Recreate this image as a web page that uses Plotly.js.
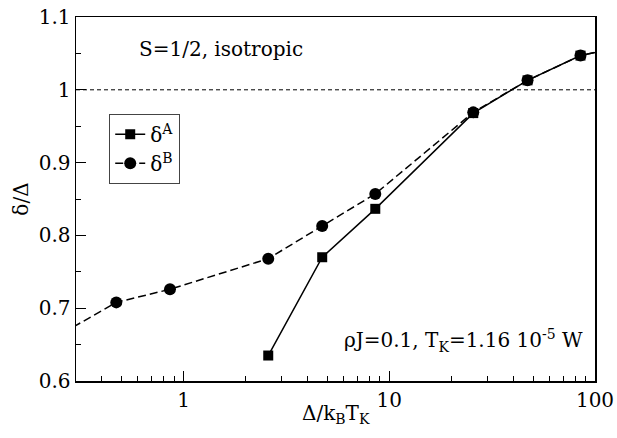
<!DOCTYPE html>
<html>
<head>
<meta charset="utf-8">
<script src="https://cdn.plot.ly/plotly-3.0.1.min.js"></script>
<style>
  body { margin: 0; background: #fff; }
  #graph { width: 617px; height: 438px; }
</style>
</head>
<body>
<div id="graph"></div>
<script>
// data (x = Delta/kB TK, y = delta/Delta)
var xA = [2.58, 4.72, 8.55, 25.6, 47, 85, 256];
var yA = [0.635, 0.770, 0.8365, 0.968, 1.013, 1.047, 1.076];
var xB = [0.259, 0.471, 0.859, 2.58, 4.72, 8.55, 25.6, 47, 85, 256];
var yB = [0.666, 0.708, 0.726, 0.768, 0.813, 0.857, 0.969, 1.013, 1.047, 1.076];

var serif = 'DejaVu Serif';

var traceA = {
    type: 'scatter',
    mode: 'lines+markers',
    name: 'δ<sup>A</sup>',
    x: xA,
    y: yA,
    line: {color: 'black', width: 1.5},
    marker: {symbol: 'square', size: 10, color: 'black'},
    cliponaxis: true
};
var traceB = {
    type: 'scatter',
    mode: 'lines+markers',
    name: 'δ<sup>B</sup>',
    x: xB,
    y: yB,
    line: {color: 'black', width: 1.5, dash: '8px,4px'},
    marker: {symbol: 'circle', size: 12, color: 'black'},
    cliponaxis: true
};

var layout = {
    width: 617,
    height: 438,
    margin: {l: 76, r: 22, t: 17, b: 57},
    paper_bgcolor: 'white',
    plot_bgcolor: 'white',
    font: {family: serif, size: 20, color: 'black'},
    showlegend: true,
    legend: {
        x: 0.064, y: 0.734, xanchor: 'left', yanchor: 'top',
        bordercolor: '#444', borderwidth: 1, bgcolor: 'white',
        font: {family: serif, size: 20},
        itemwidth: 30, tracegroupgap: 0
    },
    xaxis: {
        type: 'log',
        range: [Math.log10(0.3), 2],
        dtick: 1,
        ticks: 'inside', ticklen: 10, tickwidth: 1, tickcolor: 'black',
        minor: {ticks: 'inside', ticklen: 5, dtick: 'D1', tickcolor: 'black', showgrid: false},
        showline: true, linewidth: 1.5, linecolor: 'black', mirror: true,
        showgrid: false, zeroline: false,
        tickfont: {family: serif, size: 20}
    },
    yaxis: {
        range: [0.6, 1.1],
        dtick: 0.1,
        ticks: 'inside', ticklen: 10, tickwidth: 1, tickcolor: 'black',
        minor: {ticks: 'inside', ticklen: 5, dtick: 0.05, tickcolor: 'black', showgrid: false},
        showline: true, linewidth: 1.5, linecolor: 'black', mirror: true,
        showgrid: false, zeroline: false,
        tickfont: {family: serif, size: 20},
        title: {text: 'δ/Δ', font: {family: serif, size: 20}, standoff: 4}
    },
    shapes: [{
        type: 'line', xref: 'paper', yref: 'y',
        x0: 0, x1: 1, y0: 1, y1: 1,
        line: {color: 'black', width: 1, dash: '4px,3px'},
        layer: 'below'
    }],
    annotations: [{
        // x axis title, set close under the tick labels as in the original
        xref: 'paper', yref: 'paper', x: 0.5, y: -0.09,
        xanchor: 'center', yanchor: 'middle', showarrow: false,
        text: 'Δ/k<sub>B</sub>T<sub>K</sub>', font: {family: serif, size: 20}
    }, {
        xref: 'paper', yref: 'paper', x: 0.118, y: 0.912,
        xanchor: 'left', yanchor: 'middle', showarrow: false,
        text: 'S=1/2, isotropic', font: {family: serif, size: 20}
    }, {
        xref: 'paper', yref: 'paper', x: 0.98, y: 0.11,
        xanchor: 'right', yanchor: 'middle', showarrow: false,
        text: 'ρJ=0.1, T<sub>K</sub>=1.16 10<sup>-5</sup> W', font: {family: serif, size: 20}
    }]
};

Plotly.newPlot('graph', [traceA, traceB], layout, {displayModeBar: false, staticPlot: true});
</script>
</body>
</html>
